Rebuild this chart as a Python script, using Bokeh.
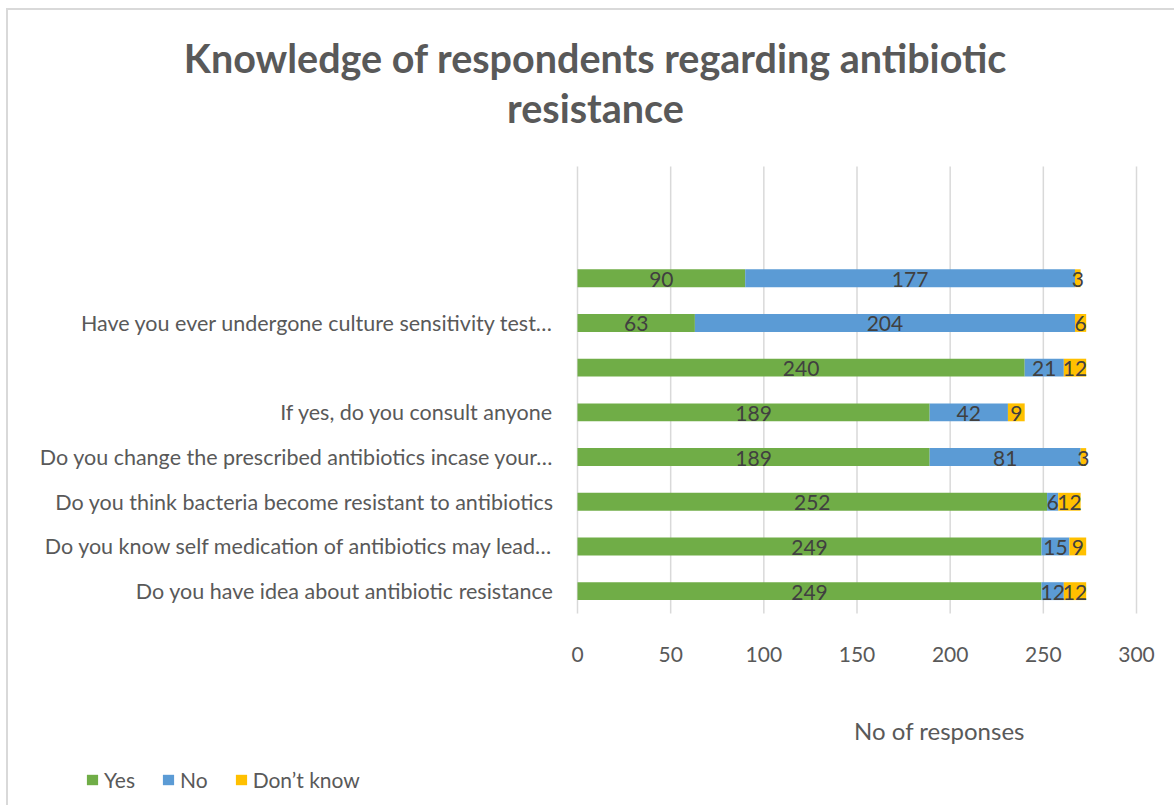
from bokeh.plotting import figure
from bokeh.models import Range1d, Legend, LegendItem, ColumnDataSource
from bokeh.core.properties import value
from bokeh.embed import file_html
from bokeh.resources import INLINE

# ---- data (bottom to top) ----
categories = [
    "Do you have idea about antibiotic resistance",
    "Do you know self medication of antibiotics may lead…",
    "Do you think bacteria become resistant to antibiotics",
    "Do you change the prescribed antibiotics incase your…",
    "If yes, do you consult anyone",
    "",
    "Have you ever undergone culture sensitivity test…",
    "",
]
yes = [249, 249, 252, 189, 189, 240, 63, 90]
no = [12, 15, 6, 81, 42, 21, 204, 177]
dont_know = [12, 9, 12, 3, 9, 12, 6, 3]
series_names = ["Yes", "No", "Don’t know"]
x_ticks = [0, 50, 100, 150, 200, 250, 300]
x_max = 300
n_slots = 10
title_lines = ["Knowledge of respondents regarding antibiotic", "resistance"]
x_title = "No of responses"

# ---- layout geometry (pixels in the page) ----
FONT = "Lato"
GREY = "#595959"
colors = ["#70AD47", "#5B9BD5", "#FFC000"]
W, H = 1168, 797            # figure size (page offset 8, 10)
OX, OY = 8, 10
PX0, PX1 = 577, 1136        # plot area left/right
PY0, PY1 = 613, 166         # plot area bottom/top
XS = (PX1 - PX0) / x_max
YS = (PY0 - PY1) / n_slots


def dx(px):
    return (px - PX0) / XS


def dy(py):
    return (PY0 - py) / YS


p = figure(width=W, height=H,
           x_range=Range1d(dx(OX), dx(OX + W)), y_range=Range1d(dy(OY + H), dy(OY)),
           output_backend="svg", toolbar_location=None,
           x_axis_location=None, y_axis_location=None,
           min_border=0, margin=(8, 0, 0, 6),
           styles={"border-top": "2px solid #d9d9d9", "border-left": "2px solid #d9d9d9"})
p.outline_line_color = None
p.grid.visible = False

# gridlines
p.segment(x0=x_ticks, x1=x_ticks, y0=[0] * len(x_ticks), y1=[n_slots] * len(x_ticks),
          line_color="#d9d9d9", line_width=1.5)

y_pos = [i + 0.5 for i in range(len(categories))]
src = ColumnDataSource(dict(y=y_pos, yes=yes, no=no, dk=dont_know))
rs = p.hbar_stack(["yes", "no", "dk"], y="y", height=0.4, color=colors, source=src, line_color=None)

# data labels
lx, ly, lt = [], [], []
for i in range(len(categories)):
    a, b, c = yes[i], no[i], dont_know[i]
    for start, v in ((0, a), (a, b), (a + b, c)):
        lx.append(start + v / 2)
        ly.append(y_pos[i] - 1 / YS)
        lt.append(str(v))
p.text(x=lx, y=ly, text=lt, text_align="center", text_baseline="middle",
       text_font=value(FONT), text_font_size="21px", text_color="#404040")

# category labels (y axis)
p.text(x=[dx(553)] * len(categories), y=y_pos, text=categories,
       text_align="right", text_baseline="middle",
       text_font=value(FONT), text_font_size="21.5px", text_color=GREY)

# x tick labels
p.text(x=x_ticks, y=[dy(654)] * len(x_ticks), text=[str(t) for t in x_ticks],
       text_align="center", text_baseline="middle",
       text_font=value(FONT), text_font_size="21px", text_color=GREY)

# x axis title
p.text(x=[dx(939)], y=[dy(729.5)], text=[x_title], text_align="center", text_baseline="middle",
       text_font=value(FONT), text_font_size="24px", text_color=GREY)

# chart title
p.text(x=[dx(595)] * 2, y=[dy(56.5), dy(106.5)], text=title_lines, text_align="center",
       text_baseline="middle", text_font=value(FONT), text_font_style="bold",
       text_font_size="39.5px", text_color=GREY)

legend = Legend(items=[LegendItem(label=n, renderers=[r]) for n, r in zip(series_names, rs)],
                orientation="horizontal", location=(77, 15))
legend.glyph_width = 14
legend.glyph_height = 13
legend.label_standoff = 5
legend.spacing = 26
legend.padding = 0
legend.margin = 0
legend.border_line_color = None
legend.background_fill_alpha = 0
legend.label_text_font = FONT
legend.label_text_font_size = "21px"
legend.label_text_color = GREY
p.add_layout(legend)

open("out.html", "w").write(file_html(p, INLINE))
